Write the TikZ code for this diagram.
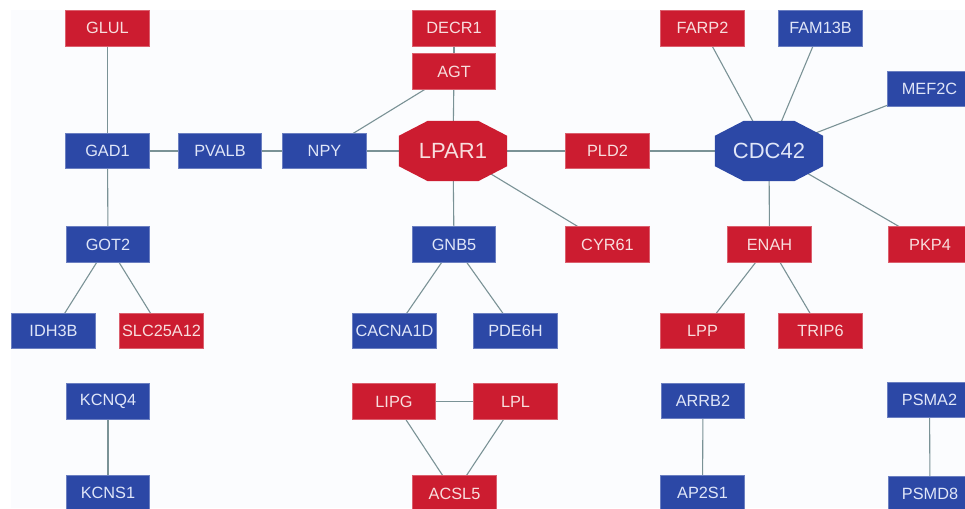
\documentclass[tikz,border=0pt]{standalone}
\usepackage{fontspec}
\setmainfont{Liberation Sans}
\pgfdeclarelayer{bglayer}
\pgfdeclarelayer{edgelayer}
\pgfdeclarelayer{shapelayer}
\pgfsetlayers{bglayer,edgelayer,shapelayer,main}
\definecolor{nred}{RGB}{204,28,48}
\definecolor{nblue}{RGB}{44,72,166}
\definecolor{edgec}{RGB}{122,146,150}
\definecolor{bgc}{RGB}{251,252,254}
\definecolor{tred}{RGB}{248,222,222}
\definecolor{tblue}{RGB}{224,230,248}
\newcommand\octfill[2]{%
  \begin{pgfonlayer}{shapelayer}
  \fill[#2] ([xshift=29pt]#1.north west) -- ([xshift=-29pt]#1.north east)
    -- ([yshift=-15pt]#1.north east) -- ([yshift=15pt]#1.south east)
    -- ([xshift=-29pt]#1.south east) -- ([xshift=29pt]#1.south west)
    -- ([yshift=15pt]#1.south west) -- ([yshift=-15pt]#1.north west) -- cycle;
  \end{pgfonlayer}}
\begin{document}
\begin{tikzpicture}[x=1pt,y=-1pt,
  gene/.style={rectangle, minimum width=83.5pt, minimum height=35.5pt, inner sep=0pt,
    line width=0.6pt, font=\fontsize{16.3}{19}\selectfont},
  rgene/.style={gene, fill=nred, draw=nred!70!white, text=tred},
  bgene/.style={gene, fill=nblue, draw=nblue!70!white, text=tblue},
  hub/.style={rectangle, minimum width=108pt, minimum height=60pt, inner sep=0pt,
    font=\fontsize{22}{26}\selectfont},
  link/.style={draw=edgec, line width=1.1pt}]
\useasboundingbox (0,0) rectangle (965,508);
\begin{pgfonlayer}{bglayer}
  \fill[bgc] (11,10) rectangle (965,508);
\end{pgfonlayer}
% top row
\node[rgene] (GLUL) at (107.5,28.2) {GLUL};
\node[rgene] (DECR1) at (454,28.2) {DECR1};
\node[rgene] (FARP2) at (702.5,28.2) {FARP2};
\node[bgene] (FAM13B) at (820.5,28.2) {FAM13B};
\node[bgene] (MEF2C) at (929.5,89) {MEF2C};
\node[rgene] (AGT) at (454,71.5) {AGT};
% second row
\node[bgene] (GAD1) at (107.5,151) {GAD1};
\node[bgene] (PVALB) at (220,151) {PVALB};
\node[bgene] (NPY) at (324.5,151) {NPY};
\node[hub, text=tred] (LPAR1) at (453,151) {LPAR1};
\octfill{LPAR1}{nred}
\node[rgene] (PLD2) at (607.5,151) {PLD2};
\node[hub, text=tblue] (CDC42) at (769,151) {CDC42};
\octfill{CDC42}{nblue}
% third row
\node[bgene] (GOT2) at (108,244.5) {GOT2};
\node[bgene] (GNB5) at (454,244.5) {GNB5};
\node[rgene] (CYR61) at (607.5,244.5) {CYR61};
\node[rgene] (ENAH) at (769.5,244.5) {ENAH};
\node[rgene] (PKP4) at (930,244.5) {PKP4};
% fourth row
\node[bgene] (IDH3B) at (53.5,331) {IDH3B};
\node[rgene] (SLC25A12) at (161.5,331) {SLC25A12};
\node[bgene] (CACNA1D) at (394.5,331) {CACNA1D};
\node[bgene] (PDE6H) at (515.5,331) {PDE6H};
\node[rgene] (LPP) at (702.5,331) {LPP};
\node[rgene] (TRIP6) at (820.5,331) {TRIP6};
% fifth row
\node[bgene] (KCNQ4) at (108,401.5) {KCNQ4};
\node[rgene] (LIPG) at (394,401.5) {LIPG};
\node[rgene] (LPL) at (515.5,401.5) {LPL};
\node[bgene] (ARRB2) at (703,401) {ARRB2};
\node[bgene] (PSMA2) at (929.5,400) {PSMA2};
% bottom row
\node[bgene] (KCNS1) at (108,493) {KCNS1};
\node[rgene] (ACSL5) at (454.5,493.5) {ACSL5};
\node[bgene] (AP2S1) at (702.5,493) {AP2S1};
\node[bgene] (PSMD8) at (930,494) {PSMD8};
% edges
\begin{pgfonlayer}{edgelayer}
\foreach \a/\b in {GLUL/GAD1, GAD1/PVALB, PVALB/NPY, NPY/LPAR1, GAD1/GOT2,
  GOT2/IDH3B, GOT2/SLC25A12, DECR1/AGT, AGT/LPAR1, AGT/NPY, LPAR1/PLD2,
  LPAR1/GNB5, LPAR1/CYR61, GNB5/CACNA1D, GNB5/PDE6H, PLD2/CDC42,
  CDC42/FARP2, CDC42/FAM13B, CDC42/MEF2C, CDC42/ENAH, CDC42/PKP4,
  ENAH/LPP, ENAH/TRIP6, KCNQ4/KCNS1, LIPG/LPL, LIPG/ACSL5, LPL/ACSL5,
  ARRB2/AP2S1, PSMA2/PSMD8}
  \draw[link] (\a.center) -- (\b.center);
\end{pgfonlayer}
\end{tikzpicture}
\end{document}
